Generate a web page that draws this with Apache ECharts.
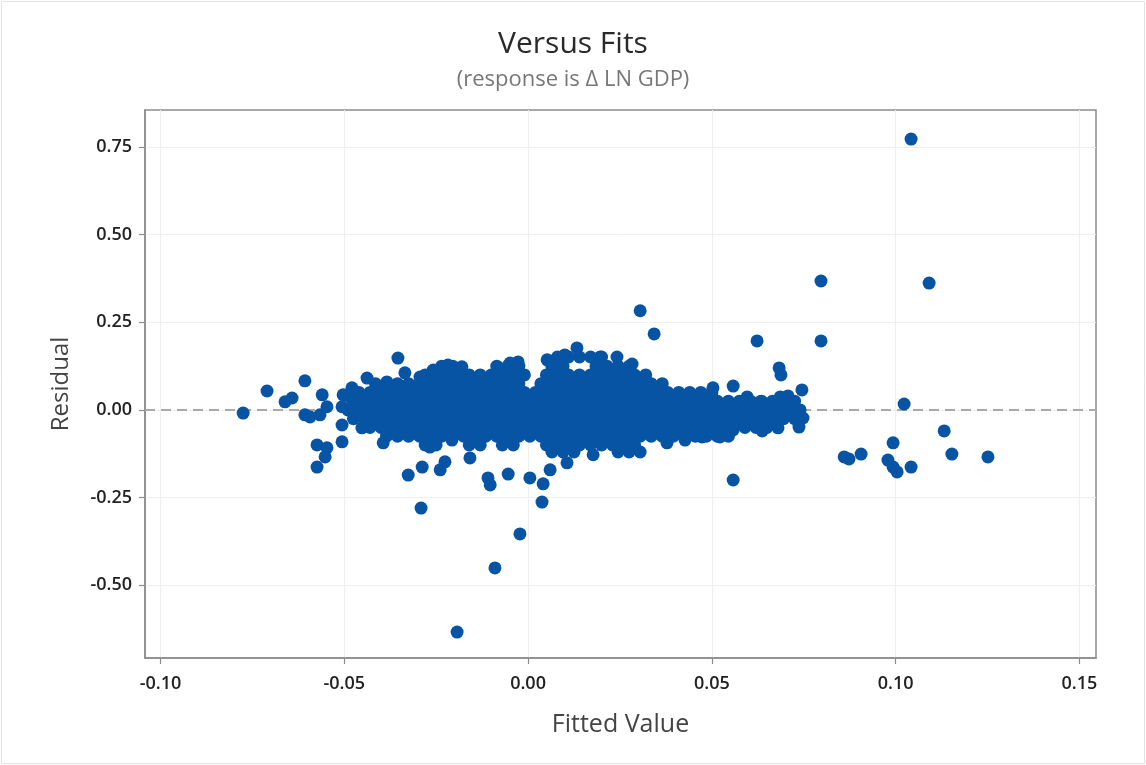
<!DOCTYPE html>
<html>
<head>
<meta charset="utf-8">
<script src="https://cdn.jsdelivr.net/npm/echarts@6/dist/echarts.min.js"></script>
<style>
html,body{margin:0;padding:0;background:#fff;}
#chart{width:1146px;height:765px;}
</style>
</head>
<body>
<div id="chart"></div>
<script>
// Axis ranges and tick labels
const xRange = [-0.1042, 0.1545];
const yRange = [-0.708, 0.856];
const xTicks = [-0.10, -0.05, 0.00, 0.05, 0.10, 0.15];
const yTicks = [-0.50, -0.25, 0.00, 0.25, 0.50, 0.75];

// Isolated points on the left side of the cloud
const leftTail = [[-0.0775,-0.009],[-0.071,0.054],[-0.0661,0.023],[-0.0642,0.034],[-0.0607,0.083],[-0.0607,-0.014],[-0.0593,-0.02],[-0.0566,-0.014],[-0.0547,0.009],[-0.056,0.043],[-0.0574,-0.1],[-0.0547,-0.108],[-0.0552,-0.134],[-0.0574,-0.163],[-0.0506,-0.091],[-0.0506,-0.043],[-0.0503,0.043],[-0.0479,0.063],[-0.0506,0.009],[-0.0484,0.037],[-0.0452,-0.051]];

// Points along the upper edge of the cloud
const upperEdge = [[-0.0438,0.091],[-0.0384,0.08],[-0.0354,0.148],[-0.0335,0.106],[-0.0294,0.094],[-0.0258,0.114],[-0.0218,0.128],[-0.018,0.123],[-0.0082,0.108],[-0.0049,0.134],[-0.0027,0.137],[0.0052,0.143],[0.0133,0.177],[0.010,0.157],[0.0196,0.151],[0.0242,0.151],[0.0283,0.131],[0.0503,0.063],[0.0558,0.068],[0.0596,0.037],[0.0631,0.023],[0.0686,0.037],[0.0707,0.04],[0.0745,0.057],[0.0683,0.12],[0.0688,0.10]];

// Points along the lower edge of the cloud
const lowerEdge = [[-0.0394,-0.094],[-0.0267,-0.106],[-0.0207,-0.086],[-0.0158,-0.137],[-0.0326,-0.186],[-0.0288,-0.163],[-0.0239,-0.171],[-0.0226,-0.148],[-0.0109,-0.194],[-0.0103,-0.214],[-0.0054,-0.183],[0.0005,-0.194],[0.0041,-0.211],[0.006,-0.171],[0.0106,-0.151],[0.0177,-0.128],[0.0305,-0.12],[0.0378,-0.094],[0.0427,-0.086],[0.0473,-0.077],[0.0522,-0.077],[0.0558,-0.057],[0.0637,-0.06],[0.068,-0.051],[0.0737,-0.049],[0.0748,-0.023]];

// Far outliers
const farOutliers = [[-0.0291,-0.28],[0.0038,-0.263],[-0.0022,-0.354],[-0.009,-0.451],[-0.0193,-0.634],[0.0305,0.283],[0.0343,0.217],[0.0623,0.197],[0.0797,0.368],[0.0797,0.197],[0.1042,0.773],[0.1091,0.362],[0.1023,0.017],[0.0993,-0.094],[0.0979,-0.143],[0.0993,-0.163],[0.1004,-0.177],[0.1042,-0.163],[0.1132,-0.06],[0.1153,-0.126],[0.1251,-0.134],[0.086,-0.134],[0.0873,-0.14],[0.0906,-0.126],[0.0558,-0.2]];

// Dense core of the cloud: residual level of each band, and fitted values estimated along it
const coreResiduals = [0.151, 0.125, 0.10, 0.075, 0.05, 0.025, 0.00, -0.025, -0.05, -0.075, -0.10, -0.12];
const coreFitted = [
  [0.008,0.011,0.014,0.017,0.020],
  [-0.0235,-0.0205,-0.0085,-0.0055,-0.0025,0.0065,0.0095,0.0185,0.0215,0.0245,0.0275],
  [-0.028,-0.025,-0.022,-0.019,-0.016,-0.013,-0.010,-0.007,-0.004,-0.001,0.005,0.008,0.011,0.014,0.017,0.020,0.023,0.026,0.029,0.032],
  [-0.0415,-0.0385,-0.0355,-0.0325,-0.0295,-0.0265,-0.0235,-0.0205,-0.0175,-0.0145,-0.0115,-0.0085,-0.0055,-0.0025,0.0035,0.0065,0.0095,0.0125,0.0155,0.0185,0.0215,0.0245,0.0275,0.0305,0.0335,0.0365],
  [-0.046,-0.043,-0.040,-0.037,-0.034,-0.031,-0.028,-0.025,-0.022,-0.019,-0.016,-0.013,-0.010,-0.007,-0.004,-0.001,0.002,0.005,0.008,0.011,0.014,0.017,0.020,0.023,0.026,0.029,0.032,0.035,0.038,0.041,0.044,0.047,0.050],
  [-0.0475,-0.0445,-0.0415,-0.0385,-0.0355,-0.0325,-0.0295,-0.0265,-0.0235,-0.0205,-0.0175,-0.0145,-0.0115,-0.0085,-0.0055,-0.0025,0.0005,0.0035,0.0065,0.0095,0.0125,0.0155,0.0185,0.0215,0.0245,0.0275,0.0305,0.0335,0.0365,0.0395,0.0425,0.0455,0.0485,0.0515,0.0545,0.0575,0.0605,0.0635,0.0665,0.0695,0.0725],
  [-0.049,-0.046,-0.043,-0.040,-0.037,-0.034,-0.031,-0.028,-0.025,-0.022,-0.019,-0.016,-0.013,-0.010,-0.007,-0.004,-0.001,0.002,0.005,0.008,0.011,0.014,0.017,0.020,0.023,0.026,0.029,0.032,0.035,0.038,0.041,0.044,0.047,0.050,0.053,0.056,0.059,0.062,0.065,0.068,0.071,0.074],
  [-0.0475,-0.0445,-0.0415,-0.0385,-0.0355,-0.0325,-0.0295,-0.0265,-0.0235,-0.0205,-0.0175,-0.0145,-0.0115,-0.0085,-0.0055,-0.0025,0.0005,0.0035,0.0065,0.0095,0.0125,0.0155,0.0185,0.0215,0.0245,0.0275,0.0305,0.0335,0.0365,0.0395,0.0425,0.0455,0.0485,0.0515,0.0545,0.0575,0.0605,0.0635,0.0665,0.0695,0.0725],
  [-0.043,-0.040,-0.037,-0.034,-0.031,-0.028,-0.025,-0.022,-0.019,-0.016,-0.013,-0.010,-0.007,-0.004,-0.001,0.002,0.005,0.008,0.011,0.014,0.017,0.020,0.023,0.026,0.029,0.032,0.035,0.038,0.041,0.044,0.047,0.050,0.053,0.056,0.059,0.062,0.065],
  [-0.0385,-0.0355,-0.0325,-0.0295,-0.0265,-0.0235,-0.0205,-0.0175,-0.0145,-0.0115,-0.0085,-0.0055,-0.0025,0.0005,0.0035,0.0065,0.0095,0.0125,0.0155,0.0185,0.0215,0.0245,0.0275,0.0305,0.0335,0.0365,0.0395,0.0425,0.0455,0.0485,0.0515,0.0545],
  [-0.028,-0.025,-0.016,-0.013,-0.007,-0.004,0.005,0.008,0.011,0.014,0.017,0.020,0.023,0.026,0.029],
  [0.0065,0.0095,0.0125,0.0245,0.0275]
];

const corePoints = [];
coreResiduals.forEach((r, i) => coreFitted[i].forEach(f => corePoints.push([f, r])));
const allPoints = corePoints.concat(leftTail, upperEdge, lowerEdge, farOutliers);

const FONT = '"Open Sans", "Noto Sans", sans-serif';
const chart = echarts.init(document.getElementById('chart'), null, {renderer: 'canvas'});
chart.setOption({
  animation: false,
  backgroundColor: '#ffffff',
  title: [
    {text: 'Versus Fits', left: 'center', top: 29, padding: 0,
     textStyle: {fontFamily: FONT, fontSize: 30, fontWeight: 'normal', color: '#2a2a2a'}},
    {text: '(response is Δ LN GDP)', left: 'center', top: 69, padding: 0,
     textStyle: {fontFamily: FONT, fontSize: 22, fontWeight: 'normal', color: '#777777'}}
  ],
  graphic: [{
    type: 'rect', shape: {x: 1.5, y: 1.5, width: 1143, height: 762},
    style: {fill: 'none', stroke: '#e2e2e2', lineWidth: 1}, silent: true, z: -10
  }],
  grid: {left: 145, right: 50, top: 110, bottom: 107, show: true,
         borderColor: '#8c8c8c', borderWidth: 1.5, backgroundColor: 'transparent'},
  xAxis: {
    type: 'value', min: xRange[0], max: xRange[1],
    name: 'Fitted Value', nameLocation: 'middle', nameGap: 54,
    nameTextStyle: {fontFamily: FONT, fontSize: 25, color: '#444444'},
    axisLine: {show: true, onZero: false, lineStyle: {color: '#8c8c8c', width: 1.5}},
    axisTick: {show: true, length: 6, lineStyle: {color: '#8c8c8c', width: 1.2}, customValues: xTicks},
    axisLabel: {customValues: xTicks, margin: 17, fontFamily: FONT, fontSize: 18, fontWeight: 600, color: '#222222',
                formatter: v => v.toFixed(2)},
    splitLine: {show: true, lineStyle: {color: '#efefef', width: 1}}
  },
  yAxis: {
    type: 'value', min: yRange[0], max: yRange[1],
    name: 'Residual', nameLocation: 'middle', nameGap: 72, nameRotate: 90,
    nameTextStyle: {fontFamily: FONT, fontSize: 24, color: '#444444'},
    axisLine: {show: true, onZero: false, lineStyle: {color: '#8c8c8c', width: 1.5}},
    axisTick: {show: true, length: 6, lineStyle: {color: '#8c8c8c', width: 1.2}, customValues: yTicks},
    axisLabel: {customValues: yTicks, margin: 13, fontFamily: FONT, fontSize: 18, fontWeight: 600, color: '#222222',
                formatter: v => v.toFixed(2)},
    splitLine: {show: true, lineStyle: {color: '#efefef', width: 1}}
  },
  series: [
    {type: 'line', data: [[xRange[0], 0], [xRange[1], 0]], symbol: 'none', silent: true, z: 1,
     lineStyle: {color: '#aaaaaa', width: 2, type: [10, 6]}},
    {type: 'scatter', data: allPoints, symbol: 'circle', symbolSize: 13, z: 2,
     itemStyle: {color: '#0754a5', opacity: 1}}
  ]
});
</script>
</body>
</html>
